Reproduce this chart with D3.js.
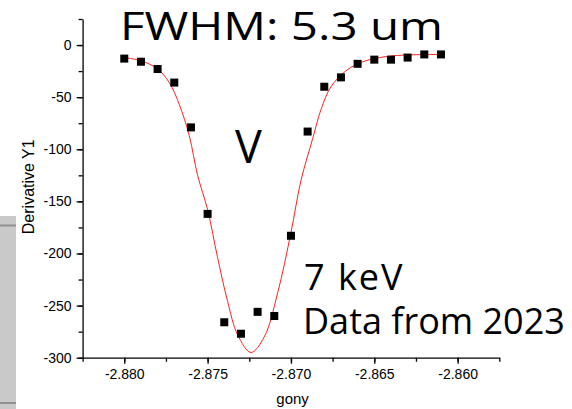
<!DOCTYPE html>
<html>
<head>
<meta charset="utf-8">
<script src="https://cdn.jsdelivr.net/npm/d3@7"></script>
<style>
  body { margin: 0; background: #fff; }
  svg { display: block; }
  .axis path, .axis line { stroke: #000; stroke-width: 1.3; }
  .axis text { font-family: "Liberation Sans", Arial, sans-serif; font-size: 14px; fill: #000; }
  .big { font-family: "Open Sans", Lato, sans-serif; font-weight: 400; fill: #000; }
</style>
</head>
<body>
<svg id="chart" width="572" height="409"></svg>
<script>
// measured points (gony, Derivative Y1)
const gony = [-2.880, -2.879, -2.878, -2.877, -2.876, -2.875, -2.874, -2.873, -2.872, -2.871,
              -2.870, -2.869, -2.868, -2.867, -2.866, -2.865, -2.864, -2.863, -2.862, -2.861];
const deriv = [-13, -16, -23, -36, -79, -162, -266, -277, -256, -260,
               -183, -83, -40, -31, -18, -14, -14, -12, -9, -9];

// fitted curve
const fitX = [-2.8800, -2.8790, -2.8780, -2.8773, -2.8767, -2.8761, -2.8756, -2.8750, -2.8744, -2.8738,
              -2.8732, -2.8724, -2.8716, -2.8708, -2.8700, -2.8694, -2.8687, -2.8682, -2.8676, -2.8668,
              -2.8660, -2.8650, -2.8636, -2.8610];
const fitY = [-12, -15, -23, -36, -57, -87, -125, -158, -204, -246,
              -278, -295, -280, -238, -180, -130, -90, -62, -40, -26,
              -18, -13, -10, -9];

const xTicks = [-2.880, -2.875, -2.870, -2.865, -2.860];
const yTicks = [0, -50, -100, -150, -200, -250, -300];

const svg = d3.select("#chart");

// grey panel peeking in from the left
svg.append("rect").attr("x", 0).attr("y", 216).attr("width", 16).attr("height", 193).attr("fill", "#c9c9c9");
svg.append("rect").attr("x", 0).attr("y", 224.5).attr("width", 16).attr("height", 2).attr("fill", "#8f8f8f");
svg.append("rect").attr("x", 0).attr("y", 402).attr("width", 16).attr("height", 2).attr("fill", "#8f8f8f");

let x = d3.scaleLinear().domain([-2.8825, -2.8575]).range([82.6, 499.3]),
    y = d3.scaleLinear().domain([25, -300]).range([19, 357.7]);

// axes
let xMinor = d3.range(-2.8825, -2.8574, 0.0025);
svg.append("g").attr("class", "axis")
    .attr("transform", "translate(0," + y(-300) + ")")
    .call(d3.axisBottom(x).tickValues(xMinor).tickSize(4).tickFormat(""))
    .call(g => g.select(".domain").remove());
svg.append("g").attr("class", "axis axis--x")
    .attr("transform", "translate(0," + y(-300) + ")")
    .call(d3.axisBottom(x).tickValues(xTicks).tickSizeInner(6).tickSizeOuter(0).tickPadding(5)
        .tickFormat(d3.format(".3f")));

let yMinor = d3.range(25, -301, -25);
svg.append("g").attr("class", "axis")
    .attr("transform", "translate(" + x(-2.8825) + ",0)")
    .call(d3.axisLeft(y).tickValues(yMinor).tickSize(4).tickFormat(""))
    .call(g => g.select(".domain").remove());
svg.append("g").attr("class", "axis axis--y")
    .attr("transform", "translate(" + x(-2.8825) + ",0)")
    .call(d3.axisLeft(y).tickValues(yTicks).tickSizeInner(6).tickSizeOuter(0).tickPadding(5)
        .tickFormat(d3.format("d")));

// minus signs as plain hyphens like the original
svg.selectAll(".axis text").text(function () { return this.textContent.replace("\u2212", "-"); });

// axis labels
svg.append("text")
    .attr("transform", "translate(34," + y(-136) + ") rotate(-90)")
    .attr("text-anchor", "middle")
    .style("font-family", "'Liberation Sans', Arial, sans-serif")
    .style("font-size", "16px")
    .text("Derivative Y1");
svg.append("text")
    .attr("x", x(-2.8699)).attr("y", 404)
    .attr("text-anchor", "middle")
    .style("font-family", "'Liberation Sans', Arial, sans-serif")
    .style("font-size", "15px")
    .text("gony");

// fit line
let line = d3.line().x((d, i) => x(fitX[i])).y(d => y(d)).curve(d3.curveCatmullRom);
svg.append("path")
    .datum(fitY)
    .attr("d", line)
    .attr("fill", "none")
    .attr("stroke", "#ff2020")
    .attr("stroke-width", 1);

// data points
svg.selectAll("rect.pt")
    .data(deriv)
    .enter().append("rect")
    .attr("class", "pt")
    .attr("x", (d, i) => x(gony[i]) - 4)
    .attr("y", d => y(d) - 4)
    .attr("width", 8)
    .attr("height", 8)
    .attr("fill", "#000");

// annotations (the original face is wider, so stretch the title a bit)
function bigText(str, px, py, size, width) {
    let t = svg.append("text").attr("class", "big")
        .attr("x", px).attr("y", py)
        .style("font-size", size + "px")
        .text(str);
    if (width) t.attr("textLength", width).attr("lengthAdjust", "spacingAndGlyphs");
    return t;
}
bigText("FWHM: 5.3 um", 120, 40, 38, 323);
bigText("V", 235, 163, 45);
bigText("7 keV", 304, 290, 36).style("letter-spacing", "2px");
bigText("Data from 2023", 303, 334, 36);
</script>
</body>
</html>
